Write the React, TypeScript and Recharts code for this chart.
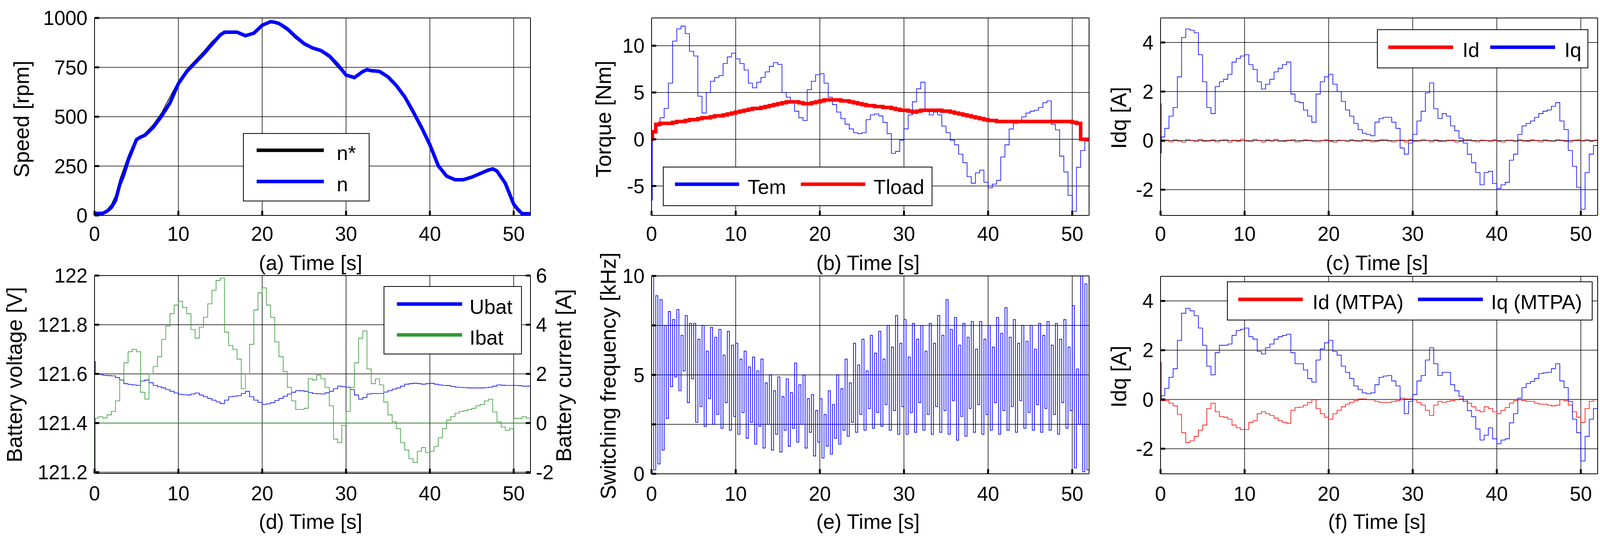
import React from "react";
import { CartesianGrid, Line, LineChart, ReferenceLine, XAxis, YAxis } from "recharts";

const FONT = '"Liberation Sans", Arial, Helvetica, sans-serif';
const BLUE = "#0000ff";
const RED = "#ff0000";
const GREEN = "#339933";
const BLACK = "#000000";

// ---- time axis ----
const X_TICKS = [0, 10, 20, 30, 40, 50];

// (a) speed
const TIME_A = [0, 1, 1.5, 2, 2.5, 3, 3.5, 4, 4.5, 5, 5.5, 6, 7, 8, 9, 10, 11, 12, 13, 14, 15, 15.5, 16, 17, 17.5, 18, 19, 20, 21, 21.5, 22, 23, 24, 25, 26, 27, 28, 29, 30, 31, 32, 32.5, 33, 34, 35, 36, 37, 38, 39, 40, 41, 42, 43, 44, 45, 46, 47, 47.5, 48, 49, 50, 50.5, 51, 52];
const SPEED_REF = [0, 15, 30, 55, 100, 180, 240, 300, 350, 390, 400, 415, 460, 520, 600, 680, 740, 785, 830, 880, 920, 928, 928, 925, 915, 912, 930, 968, 982, 976, 965, 935, 895, 862, 843, 828, 798, 750, 705, 700, 732, 736, 731, 726, 697, 650, 590, 512, 432, 345, 240, 195, 181, 182, 196, 215, 232, 235, 220, 150, 45, 20, 5, 5];
const SPEED_N = [10, 11, 22, 40, 75, 155, 208, 278, 331, 384, 397, 406, 446, 503, 570, 667, 729, 773, 817, 866, 914, 928, 928, 928, 919, 910, 923, 963, 981, 978, 972, 945, 905, 870, 848, 835, 808, 764, 711, 698, 729, 738, 733, 729, 702, 658, 601, 526, 446, 358, 252, 199, 181, 181, 194, 212, 230, 236, 225, 163, 57, 31, 9, 9];

// shared sample times for (b), (c), (d), (f)
const T = [0, 0.1,
  0.5, 1, 1.5, 2, 2.5, 3, 3.5, 4, 4.5, 5,
  5.5, 6, 6.5, 7, 7.5, 8, 8.5, 9, 9.5, 10,
  10.5, 11, 11.5, 12, 12.5, 13, 13.5, 14, 14.5, 15,
  15.5, 16, 16.5, 17, 17.5, 18, 18.5, 19, 19.5, 20,
  20.5, 21, 21.5, 22, 22.5, 23, 23.5, 24, 24.5, 25,
  25.5, 26, 26.5, 27, 27.5, 28, 28.5, 29, 29.5, 30,
  30.5, 31, 31.5, 32, 32.5, 33, 33.5, 34, 34.5, 35,
  35.5, 36, 36.5, 37, 37.5, 38, 38.5, 39, 39.5, 40,
  40.5, 41, 41.5, 42, 42.5, 43, 43.5, 44, 44.5, 45,
  45.5, 46, 46.5, 47, 47.5, 48, 48.5, 49, 49.5, 50,
  50.5, 51, 51.5, 52];

// (b) torque
const TEM = [-6.5, 0.8,
  1.4, 2.3, 3.3, 6.0, 10.5, 11.8, 12.1, 11.3, 9.4, 8.9,
  4.6, 2.8, 5.0, 6.2, 6.6, 6.8, 8.1, 8.8, 9.2, 8.6,
  8.1, 7.4, 6.0, 5.5, 6.1, 6.6, 7.2, 7.8, 8.2, 8.0,
  5.0, 4.5, 4.0, 3.0, 2.3, 2.0, 5.3, 6.2, 6.9, 7.0,
  6.0, 4.5, 3.7, 2.9, 2.2, 1.6, 1.1, 0.7, 0.6, 0.7,
  2.1, 2.6, 2.7, 2.5, 1.8, 0.6, -1.5, -1.3, -0.1, 1.1,
  2.6, 4.0, 5.4, 6.1, 3.0, 2.6, 2.9, 2.6, 1.4, 0.7,
  -0.1, -0.6, -1.6, -2.5, -4.0, -4.7, -3.6, -3.3, -4.6, -5.2,
  -4.8, -4.4, -1.9, -0.6, 1.1, 1.7, 2.0, 2.4, 2.8, 3.0,
  3.1, 3.4, 3.9, 4.1, 1.6, 1.0, -1.8, -3.5, -6.0, -7.7,
  -3.0, -1.2, -0.2, 0.1];
const TLOAD = [0, 0.8,
  1.6, 1.7, 1.7, 1.7, 1.8, 1.9, 1.9, 2.0, 2.1, 2.1,
  2.2, 2.3, 2.3, 2.4, 2.5, 2.5, 2.6, 2.7, 2.8, 2.9,
  3.0, 3.1, 3.2, 3.3, 3.3, 3.4, 3.5, 3.6, 3.7, 3.8,
  3.9, 4.0, 4.0, 4.0, 3.9, 3.8, 3.8, 3.9, 4.0, 4.1,
  4.2, 4.2, 4.2, 4.2, 4.1, 4.1, 4.0, 3.9, 3.8, 3.7,
  3.6, 3.6, 3.5, 3.5, 3.4, 3.4, 3.3, 3.2, 3.1, 3.1,
  3.0, 2.9, 3.0, 3.1, 3.1, 3.1, 3.1, 3.1, 3.0, 3.0,
  2.9, 2.8, 2.7, 2.6, 2.5, 2.4, 2.3, 2.2, 2.1, 2.0,
  2.0, 1.9, 1.9, 1.9, 1.9, 1.9, 1.9, 1.9, 1.9, 1.9,
  1.9, 1.9, 1.9, 1.9, 1.9, 1.9, 1.9, 1.9, 1.9, 1.8,
  1.7, 0, 0, 0];

// (c) dq currents
const ID_C = [1.5, -0.04,
  0.02, -0.05, 0.03, -0.02, -0.06, 0.04, 0.01, -0.04, 0.05, -0.03,
  -0.02, 0.03, -0.05, 0.02, 0.04, -0.06, 0.02, -0.03, 0.06, -0.02,
  -0.04, 0.05, 0.01, -0.06, 0.03, -0.02, 0.05, -0.04, -0.03, 0.02,
  0.04, -0.05, -0.02, 0.03, 0.02, -0.04, -0.05, 0.01, 0.03, -0.03,
  -0.06, 0.02, 0.01, -0.04, 0.03, -0.02, -0.04, 0.04, 0.02, -0.05,
  -0.03, 0.03, 0.04, -0.02, -0.05, 0.01, 0.02, -0.06, 0.03, -0.03,
  -0.02, 0.04, 0.01, -0.05, 0.03, -0.03, -0.04, 0.02, 0.02, -0.06,
  -0.03, 0.03, 0.04, -0.02, -0.05, 0.02, 0.01, -0.04, 0.03, -0.03,
  -0.06, 0.02, 0.02, -0.04, 0.04, -0.02, -0.03, 0.03, 0.01, -0.05,
  0.03, -0.02, -0.04, 0.04, 0.02, -0.03, -0.05, 0.02, 0.03, -0.02,
  0.04, -0.03, 0.02, 0.1];
const IQ_C = [-0.5, 0.15,
  0.5, 1.0, 1.35, 2.6, 4.2, 4.55, 4.5, 4.4, 3.5, 2.4,
  1.35, 1.1, 2.2, 2.4, 2.5, 2.7, 3.2, 3.35, 3.45, 3.5,
  3.1, 2.9, 2.4, 2.1, 2.3, 2.5, 2.8, 2.95, 3.1, 3.2,
  1.9, 1.6, 1.55, 1.25, 1.0, 0.75, 1.9, 2.4, 2.6, 2.7,
  2.3, 2.0, 1.6, 1.25, 1.0, 0.7, 0.45, 0.3, 0.25, 0.2,
  0.75, 0.9, 0.95, 0.95, 0.75, 0.5, -0.3, -0.55, -0.1, 0.25,
  0.8, 1.2, 1.95, 2.35, 1.3, 0.9, 1.1, 1.0, 0.6, 0.4,
  0.1, -0.1, -0.55, -0.9, -1.3, -1.8, -1.3, -1.25, -1.75, -1.95,
  -1.8, -1.7, -0.8, -0.55, 0.25, 0.6, 0.7, 0.8, 0.95, 1.1,
  1.2, 1.25, 1.4, 1.55, 0.8, 0.45, -0.4, -1.05, -1.9, -2.8,
  -1.3, -0.55, -0.2, -0.1];

// (d) battery
const UBAT = [121.65, 121.6,
  121.598, 121.594, 121.593, 121.592, 121.585, 121.575, 121.56, 121.557, 121.555, 121.553,
  121.571, 121.575, 121.564, 121.553, 121.548, 121.543, 121.536, 121.529, 121.522, 121.517,
  121.515, 121.514, 121.518, 121.522, 121.514, 121.507, 121.5, 121.493, 121.486, 121.479,
  121.493, 121.507, 121.509, 121.511, 121.52, 121.529, 121.507, 121.493, 121.484, 121.476,
  121.478, 121.483, 121.492, 121.5, 121.509, 121.518, 121.525, 121.532, 121.531, 121.529,
  121.524, 121.52, 121.519, 121.518, 121.523, 121.529, 121.54, 121.55, 121.548, 121.546,
  121.536, 121.514, 121.497, 121.504, 121.518, 121.52, 121.52, 121.52, 121.526, 121.532,
  121.538, 121.543, 121.55, 121.558, 121.56, 121.562, 121.56, 121.558, 121.56, 121.562,
  121.558, 121.555, 121.553, 121.552, 121.549, 121.546, 121.545, 121.544, 121.543, 121.543,
  121.543, 121.543, 121.544, 121.546, 121.55, 121.555, 121.554, 121.553, 121.553, 121.553,
  121.552, 121.55, 121.55, 121.55];
const IBAT = [-2.0, 0.2,
  0.26, 0.2, 0.33, 0.47, 0.9, 1.75, 2.45, 2.9, 3.0, 2.9,
  1.25, 0.97, 2.0, 2.3, 2.7, 3.4, 3.95, 4.45, 4.8, 4.95,
  4.7, 4.45, 3.8, 3.45, 3.9, 4.3, 4.85, 5.4, 5.8, 5.9,
  3.7, 3.15, 3.0, 2.6, 1.4, 2.0, 3.2, 4.6, 5.3, 5.5,
  4.8, 4.3, 3.3, 2.7, 2.1, 1.45, 0.9, 0.55, 0.55, 0.6,
  1.8, 1.75, 1.95, 1.8, 1.45, 0.7, -0.65, -0.8, -0.1, 0.47,
  1.45, 2.45, 3.45, 3.75, 2.2, 1.6, 1.8, 1.55, 0.85, 0.33,
  0.05, -0.23, -0.8, -1.1, -1.45, -1.6, -1.15, -1.0, -1.2, -1.15,
  -0.95, -0.6, -0.23, 0.12, 0.26, 0.4, 0.47, 0.5, 0.55, 0.6,
  0.7, 0.75, 0.9, 0.97, 0.45, 0.05, -0.16, -0.3, -0.23, 0.19,
  0.19, 0.26, 0.2, 0.19];

// (e) switching frequency
const TF = [
  0, 0.25, 0.5, 0.75, 1, 1.25, 1.5, 1.75, 2, 2.25, 2.5, 2.75, 3, 3.25, 3.5, 3.75,
  4, 4.25, 4.5, 4.75, 5, 5.25, 5.5, 5.75, 6, 6.25, 6.5, 6.75, 7, 7.25, 7.5, 7.75,
  8, 8.25, 8.5, 8.75, 9, 9.25, 9.5, 9.75, 10, 10.25, 10.5, 10.75, 11, 11.25, 11.5, 11.75,
  12, 12.25, 12.5, 12.75, 13, 13.25, 13.5, 13.75, 14, 14.25, 14.5, 14.75, 15, 15.25, 15.5, 15.75,
  16, 16.25, 16.5, 16.75, 17, 17.25, 17.5, 17.75, 18, 18.25, 18.5, 18.75, 19, 19.25, 19.5, 19.75,
  20, 20.25, 20.5, 20.75, 21, 21.25, 21.5, 21.75, 22, 22.25, 22.5, 22.75, 23, 23.25, 23.5, 23.75,
  24, 24.25, 24.5, 24.75, 25, 25.25, 25.5, 25.75, 26, 26.25, 26.5, 26.75, 27, 27.25, 27.5, 27.75,
  28, 28.25, 28.5, 28.75, 29, 29.25, 29.5, 29.75, 30, 30.25, 30.5, 30.75, 31, 31.25, 31.5, 31.75,
  32, 32.25, 32.5, 32.75, 33, 33.25, 33.5, 33.75, 34, 34.25, 34.5, 34.75, 35, 35.25, 35.5, 35.75,
  36, 36.25, 36.5, 36.75, 37, 37.25, 37.5, 37.75, 38, 38.25, 38.5, 38.75, 39, 39.25, 39.5, 39.75,
  40, 40.25, 40.5, 40.75, 41, 41.25, 41.5, 41.75, 42, 42.25, 42.5, 42.75, 43, 43.25, 43.5, 43.75,
  44, 44.25, 44.5, 44.75, 45, 45.25, 45.5, 45.75, 46, 46.25, 46.5, 46.75, 47, 47.25, 47.5, 47.75,
  48, 48.25, 48.5, 48.75, 49, 49.25, 49.5, 49.75, 50, 50.25, 50.5, 50.75, 51, 51.25, 51.5, 51.75,
  52];
const FSW = [
  10, 0.2, 9.0, 0.5, 8.8, 1.2, 7.5, 2.8,
  8.2, 4.4, 7.8, 4.9, 8.3, 4.2, 7.0, 5.2,
  8.0, 3.6, 7.6, 4.8, 7.6, 2.6, 6.8, 3.4,
  7.5, 2.4, 6.2, 3.8, 7.4, 2.5, 6.9, 3.0,
  7.3, 2.3, 6.0, 3.6, 7.2, 2.2, 6.5, 2.9,
  6.6, 2.0, 5.8, 3.1, 6.2, 1.8, 5.4, 2.6,
  5.9, 1.5, 5.2, 2.4, 5.8, 1.3, 4.6, 2.5,
  5.0, 1.2, 4.2, 2.0, 4.9, 1.1, 3.9, 2.2,
  4.8, 1.4, 4.1, 2.3, 5.6, 1.6, 4.5, 2.5,
  5.0, 1.3, 3.8, 2.1, 4.0, 0.9, 3.2, 1.6,
  3.8, 0.8, 3.0, 1.4, 4.2, 1.0, 3.5, 1.8,
  5.0, 1.5, 4.3, 2.2, 5.8, 1.9, 4.6, 2.6,
  6.6, 2.1, 5.5, 3.0, 6.8, 2.2, 5.2, 3.3,
  7.0, 2.3, 6.1, 3.1, 7.2, 2.4, 5.8, 3.5,
  7.5, 2.2, 6.4, 3.2, 8.0, 2.0, 6.6, 3.4,
  7.8, 2.0, 5.9, 3.1, 7.6, 2.1, 6.8, 3.6,
  7.5, 2.2, 6.2, 3.0, 7.6, 2.0, 6.6, 3.4,
  8.0, 2.1, 7.0, 3.2, 8.8, 2.0, 7.3, 3.7,
  7.9, 1.7, 6.5, 2.9, 7.6, 1.9, 6.9, 3.3,
  7.7, 2.1, 6.3, 3.5, 7.7, 2.0, 6.8, 3.0,
  7.5, 2.2, 6.4, 3.6, 7.9, 2.0, 7.1, 3.2,
  8.4, 2.2, 6.9, 3.4, 7.8, 2.1, 6.6, 3.7,
  7.5, 2.3, 6.7, 3.1, 7.5, 2.2, 6.3, 3.5,
  7.6, 2.1, 7.0, 3.3, 7.7, 2.2, 6.5, 3.0,
  7.6, 2.0, 6.8, 3.6, 7.8, 2.3, 6.4, 3.2,
  8.5, 0.3, 5.3, 2.5, 10, 0.1, 9.6, 0.2,
  4.5];

// (f) dq currents with MTPA
const ID_F = [1.5, -0.05,
  -0.05, -0.15, -0.26, -0.6, -1.35, -1.75, -1.68, -1.5, -1.25, -1.04,
  -0.37, -0.15, -0.5, -0.69, -0.72, -0.8, -1.04, -1.15, -1.22, -1.22,
  -0.93, -0.86, -0.58, -0.5, -0.58, -0.65, -0.76, -0.86, -0.93, -0.97,
  -0.44, -0.33, -0.31, -0.23, -0.12, -0.01, -0.37, -0.58, -0.72, -0.8,
  -0.58, -0.44, -0.3, -0.19, -0.12, -0.05, 0.02, 0.02, -0.01, -0.01,
  -0.08, -0.12, -0.12, -0.12, -0.08, -0.05, 0.06, 0.02, 0.02, -0.01,
  -0.12, -0.23, -0.44, -0.65, -0.23, -0.08, -0.12, -0.08, -0.05, -0.01,
  0.02, -0.01, -0.15, -0.3, -0.44, -0.5, -0.3, -0.37, -0.5, -0.58,
  -0.44, -0.33, -0.15, -0.05, -0.01, -0.05, -0.08, -0.08, -0.15, -0.19,
  -0.19, -0.23, -0.26, -0.23, -0.01, -0.05, -0.23, -0.5, -0.72, -0.93,
  -0.37, -0.08, -0.01, 0.06];
const IQ_F = [0.1, 0.15,
  0.45, 0.9, 1.25, 2.4, 3.5, 3.7, 3.6, 3.4, 2.9, 2.2,
  1.35, 1.0, 1.9, 2.2, 2.2, 2.25, 2.6, 2.8, 2.85, 2.9,
  2.55, 2.45, 1.95, 1.85, 2.1, 2.25, 2.45, 2.55, 2.6, 2.65,
  1.9, 1.45, 1.45, 1.2, 0.85, 0.7, 1.6, 2.05, 2.3, 2.4,
  1.95, 1.8, 1.35, 1.1, 0.85, 0.55, 0.4, 0.27, 0.23, 0.27,
  0.6, 0.9, 0.95, 0.97, 0.75, 0.55, 0, -0.58, -0.08, 0.2,
  0.75, 0.97, 1.6, 2.1, 1.45, 0.97, 1.1, 1.1, 0.6, 0.35,
  0.13, -0.08, -0.45, -0.7, -1.2, -1.65, -1.45, -1.15, -1.6, -1.8,
  -1.65, -1.6, -0.95, -0.58, 0.05, 0.48, 0.65, 0.73, 0.85, 1.05,
  1.08, 1.1, 1.25, 1.45, 0.75, 0.48, -0.08, -0.8, -1.35, -2.5,
  -1.5, -0.8, -0.37, 0];

// ---- tables for the library ----
const speedData = TIME_A.map((t, i) => ({ t, nRef: SPEED_REF[i], n: SPEED_N[i] }));
const torqueData = T.map((t, i) => ({ t, tem: TEM[i], tload: TLOAD[i] }));
const idqData = T.map((t, i) => ({ t, id: ID_C[i], iq: IQ_C[i] }));
const batData = T.map((t, i) => ({ t, u: UBAT[i], i: IBAT[i] }));
const fswData = TF.map((t, i) => ({ t, f: FSW[i] }));
const mtpaData = T.map((t, i) => ({ t, id: ID_F[i], iq: IQ_F[i] }));

// ---- layout ----
type Plot = { left: number; top: number; width: number; height: number };
const PLOT_A: Plot = { left: 242, top: 46, width: 1116, height: 506 };
const PLOT_B: Plot = { left: 1668, top: 46, width: 1120, height: 506 };
const PLOT_C: Plot = { left: 2971, top: 46, width: 1119, height: 506 };
const PLOT_D: Plot = { left: 242, top: 706, width: 1116, height: 507 };
const PLOT_E: Plot = { left: 1668, top: 707, width: 1120, height: 507 };
const PLOT_F: Plot = { left: 2971, top: 708, width: 1119, height: 506 };

const LW = 230; // left axis band
const TH = 44; // top band (room for half of the top tick label)
const BH = 100;

const AXIS = { stroke: BLACK, strokeWidth: 2 };
const TICKLINE = { stroke: BLACK, strokeWidth: 5 };
const TICK = { fontSize: 51, fill: BLACK };

function frame(
  yDomain: [number, number],
  yTicks: number[],
  xGap: number,
  yFmt?: (v: number) => string,
  withRightMirror = true,
) {
  const items = [
    <CartesianGrid key="grid" stroke={BLACK} strokeWidth={1.5} fill="none" />,
    <XAxis key="xb" dataKey="t" type="number" domain={[0, 52]} ticks={X_TICKS} allowDataOverflow interval={0}
      height={BH} axisLine={AXIS} tickLine={TICKLINE} tickSize={-12} tickMargin={12 + xGap} tick={TICK} />,
    <XAxis key="xt" xAxisId="top" orientation="top" dataKey="t" type="number" domain={[0, 52]} ticks={X_TICKS}
      allowDataOverflow interval={0} height={TH} axisLine={AXIS} tickLine={TICKLINE} tickSize={-12} tick={false} />,
    <YAxis key="yl" type="number" domain={yDomain} ticks={yTicks} allowDataOverflow interval={0} width={LW}
      axisLine={AXIS} tickLine={TICKLINE} tickSize={-12} tickMargin={30} tick={TICK} tickFormatter={yFmt} />,
  ];
  if (withRightMirror) {
    items.push(
      <YAxis key="yr" yAxisId="right" orientation="right" type="number" domain={yDomain} ticks={yTicks}
        allowDataOverflow interval={0} width={10} axisLine={AXIS} tickLine={TICKLINE} tickSize={-12} tick={false} />,
    );
  }
  return items;
}

function Chart({ plot, data, right = 10, children }: { plot: Plot; data: any[]; right?: number; children: React.ReactNode }) {
  return (
    <div style={{ position: "absolute", left: plot.left - LW, top: plot.top - TH }}>
      <LineChart width={LW + plot.width + right} height={TH + plot.height + BH} data={data}
        margin={{ top: 0, right: 0, bottom: 0, left: 0 }}>
        {children}
      </LineChart>
    </div>
  );
}

// ---- text ----
const Y_TITLES = [
  { text: "Speed [rpm]", x: 55, y: 305 },
  { text: "Torque [Nm]", x: 1545, y: 305 },
  { text: "Idq [A]", x: 2864, y: 302 },
  { text: "Battery voltage [V]", x: 37, y: 960 },
  { text: "Battery current [A]", x: 1443, y: 962 },
  { text: "Switching frequency [kHz]", x: 1557, y: 963 },
  { text: "Idq [A]", x: 2864, y: 965 },
];
const X_TITLES = [
  { text: "(a) Time [s]", x: 795, y: 673 },
  { text: "(b) Time [s]", x: 2222, y: 673 },
  { text: "(c) Time [s]", x: 3525, y: 673 },
  { text: "(d) Time [s]", x: 795, y: 1336 },
  { text: "(e) Time [s]", x: 2222, y: 1336 },
  { text: "(f) Time [s]", x: 3525, y: 1336 },
];

type LegendItem = { label: string; color: string; x1: number; x2: number; y: number; tx: number };
const LEGENDS: { box: [number, number, number, number]; items: LegendItem[] }[] = [
  { box: [623, 342, 322, 173], items: [
    { label: "n*", color: BLACK, x1: 657, x2: 829, y: 385, tx: 862 },
    { label: "n", color: BLUE, x1: 657, x2: 829, y: 465, tx: 862 },
  ] },
  { box: [1698, 428, 688, 99], items: [
    { label: "Tem", color: BLUE, x1: 1728, x2: 1892, y: 472, tx: 1914 },
    { label: "Tload", color: RED, x1: 2050, x2: 2215, y: 472, tx: 2236 },
  ] },
  { box: [3526, 76, 539, 98], items: [
    { label: "Id", color: RED, x1: 3554, x2: 3720, y: 121, tx: 3744 },
    { label: "Iq", color: BLUE, x1: 3815, x2: 3981, y: 121, tx: 4005 },
  ] },
  { box: [983, 734, 352, 173], items: [
    { label: "Ubat", color: BLUE, x1: 1016, x2: 1183, y: 779, tx: 1202 },
    { label: "Ibat", color: GREEN, x1: 1016, x2: 1183, y: 858, tx: 1202 },
  ] },
  { box: [3142, 722, 934, 98], items: [
    { label: "Id (MTPA)", color: RED, x1: 3170, x2: 3335, y: 767, tx: 3360 },
    { label: "Iq (MTPA)", color: BLUE, x1: 3630, x2: 3796, y: 767, tx: 3817 },
  ] },
];

const intLabel = (v: number) => String(v);
const fswLabel = (v: number) => (v % 5 === 0 ? String(v) : "");

export default function App() {
  return (
    <div style={{ position: "absolute", left: 0, top: 0, width: 4135, height: 1381, background: "#fff", overflow: "hidden", fontFamily: FONT }}>
      <Chart plot={PLOT_A} data={speedData}>
        {frame([0, 1000], [0, 250, 500, 750, 1000], 29, intLabel)}
        <Line dataKey="nRef" type="linear" stroke={BLACK} strokeWidth={2} dot={false} activeDot={false} isAnimationActive={false} />
        <Line dataKey="n" type="linear" stroke={BLUE} strokeWidth={9} dot={false} activeDot={false} isAnimationActive={false} />
      </Chart>

      <Chart plot={PLOT_B} data={torqueData}>
        {frame([-8.15, 12.97], [-5, 0, 5, 10], 29, intLabel)}
        <Line dataKey="tem" type="stepAfter" stroke={BLUE} strokeWidth={1.6} dot={false} activeDot={false} isAnimationActive={false} />
        <Line dataKey="tload" type="stepAfter" stroke={RED} strokeWidth={9} dot={false} activeDot={false} isAnimationActive={false} />
      </Chart>

      <Chart plot={PLOT_C} data={idqData}>
        {frame([-3.05, 5], [-2, 0, 2, 4], 29, intLabel)}
        <Line dataKey="id" type="stepAfter" stroke={RED} strokeWidth={1.6} dot={false} activeDot={false} isAnimationActive={false} />
        <Line dataKey="iq" type="stepAfter" stroke={BLUE} strokeWidth={1.6} dot={false} activeDot={false} isAnimationActive={false} />
      </Chart>

      <Chart plot={PLOT_D} data={batData} right={110}>
        {frame([121.195, 122], [121.2, 121.4, 121.6, 121.8, 122], 33, intLabel, false)}
        <YAxis yAxisId="right" orientation="right" type="number" domain={[-2.05, 6]} ticks={[-2, 0, 2, 4, 6]}
          allowDataOverflow interval={0} width={110} axisLine={AXIS} tickLine={TICKLINE} tickSize={-12} tickMargin={26}
          tick={TICK} tickFormatter={intLabel} />
        <ReferenceLine yAxisId="right" y={0} stroke={GREEN} strokeWidth={1.5} ifOverflow="hidden" />
        <Line dataKey="u" type="stepAfter" stroke={BLUE} strokeWidth={1.6} dot={false} activeDot={false} isAnimationActive={false} />
        <Line dataKey="i" yAxisId="right" type="stepAfter" stroke={GREEN} strokeWidth={1.6} dot={false} activeDot={false} isAnimationActive={false} />
      </Chart>

      <Chart plot={PLOT_E} data={fswData}>
        {frame([0, 10], [0, 2.5, 5, 7.5, 10], 33, fswLabel)}
        <Line dataKey="f" type="stepAfter" stroke={BLUE} strokeWidth={1.8} dot={false} activeDot={false} isAnimationActive={false} />
      </Chart>

      <Chart plot={PLOT_F} data={mtpaData}>
        {frame([-3.02, 5], [-2, 0, 2, 4], 33, intLabel)}
        <Line dataKey="id" type="stepAfter" stroke={RED} strokeWidth={1.6} dot={false} activeDot={false} isAnimationActive={false} />
        <Line dataKey="iq" type="stepAfter" stroke={BLUE} strokeWidth={1.6} dot={false} activeDot={false} isAnimationActive={false} />
      </Chart>

      <svg width={4135} height={1381} style={{ position: "absolute", left: 0, top: 0, pointerEvents: "none" }}>
        {Y_TITLES.map((d, k) => (
          <text key={`y${k}`} transform={`translate(${d.x},${d.y}) rotate(-90)`} textAnchor="middle"
            dominantBaseline="central" fontSize={55} fill={BLACK}>{d.text}</text>
        ))}
        {X_TITLES.map((d, k) => (
          <text key={`x${k}`} x={d.x} y={d.y} textAnchor="middle" dominantBaseline="central" fontSize={53} fill={BLACK}>{d.text}</text>
        ))}
        {LEGENDS.map((lg, k) => (
          <g key={`lg${k}`}>
            <rect x={lg.box[0]} y={lg.box[1]} width={lg.box[2]} height={lg.box[3]} fill="#fff" stroke={BLACK} strokeWidth={2} />
            {lg.items.map((it) => (
              <g key={it.label}>
                <line x1={it.x1} x2={it.x2} y1={it.y} y2={it.y} stroke={it.color} strokeWidth={9} />
                <text x={it.tx} y={it.y + 25} fontSize={52} fill={BLACK}>{it.label}</text>
              </g>
            ))}
          </g>
        ))}
      </svg>
    </div>
  );
}
